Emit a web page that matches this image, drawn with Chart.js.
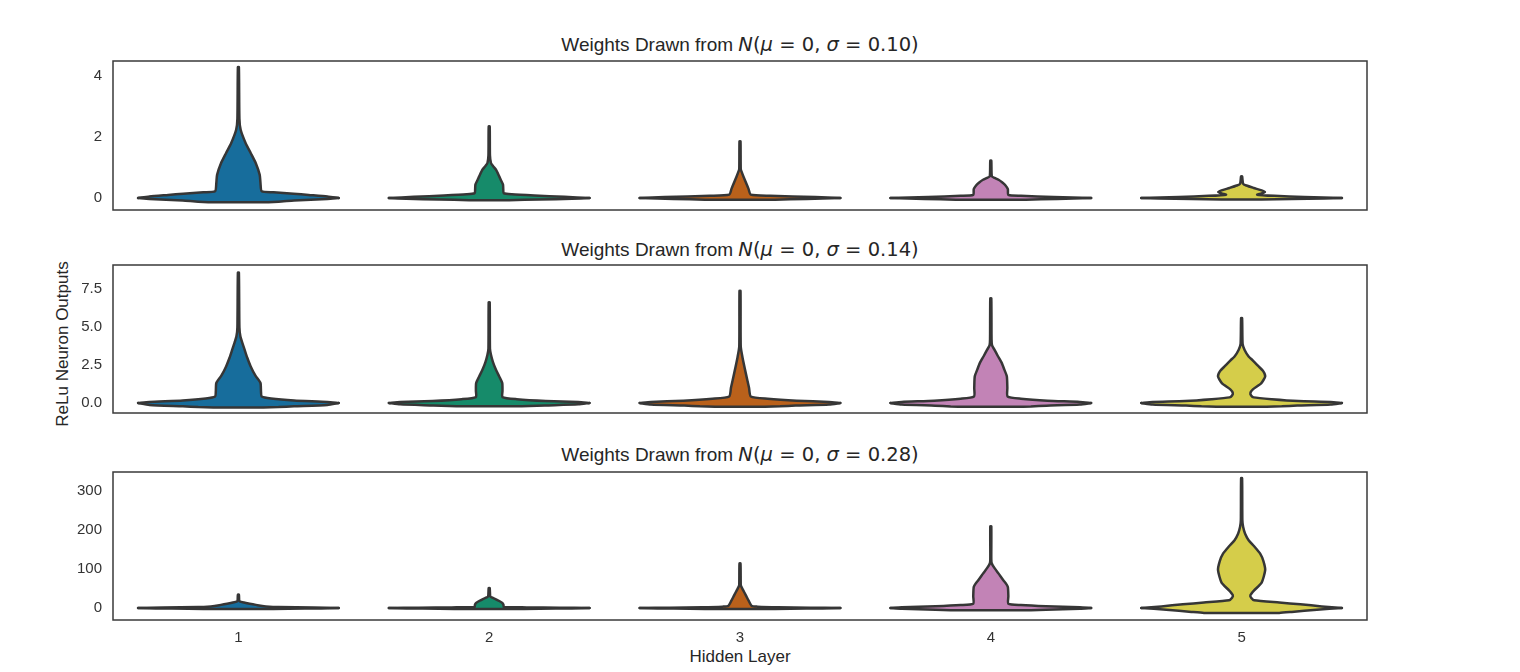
<!DOCTYPE html>
<html lang="en">
<head>
<meta charset="UTF-8">
<title>ReLu neuron outputs per hidden layer</title>
<script src="https://cdn.jsdelivr.net/npm/chart.js"></script>
<style>
  body { margin: 0; background: #fff; width: 1520px; height: 672px; overflow: hidden; position: relative;
         font-family: "Liberation Sans", Arial, sans-serif; color: #262626; }
  .panel { position: absolute; left: 0; }
  .panel canvas { display: block; }
  .title { position: absolute; left: 113px; width: 1254px; text-align: center; font-size: 19px; line-height: 22px; white-space: nowrap; }
  .math { font-family: "DejaVu Sans", sans-serif; font-size: 19.5px; }
  .math i { font-style: oblique; }
  #ylabel { position: absolute; left: 63px; top: 344px; font-size: 17px; line-height: 18px; white-space: nowrap;
            transform: translate(-50%, -50%) rotate(-90deg); }
  #xlabel { position: absolute; left: 740px; top: 657px; font-size: 17px; line-height: 18px; white-space: nowrap;
            transform: translate(-50%, -50%); }
</style>
</head>
<body>
<div class="title" style="top:34px">Weights Drawn from <span class="math"><i>N</i>(<i>μ</i> = 0, <i>σ</i> = 0.10)</span></div>
<div class="title" style="top:239px">Weights Drawn from <span class="math"><i>N</i>(<i>μ</i> = 0, <i>σ</i> = 0.14)</span></div>
<div class="title" style="top:444px">Weights Drawn from <span class="math"><i>N</i>(<i>μ</i> = 0, <i>σ</i> = 0.28)</span></div>
<div id="ylabel">ReLu Neuron Outputs</div>
<div id="xlabel">Hidden Layer</div>

<div class="panel" style="top:51px"><canvas id="c1" width="1390" height="169"></canvas></div>
<div class="panel" style="top:255px"><canvas id="c2" width="1390" height="168"></canvas></div>
<div class="panel" style="top:462px"><canvas id="c3" width="1390" height="198"></canvas></div>

<script>
// hidden layers on the x axis
var layers = [1, 2, 3, 4, 5];
var layerLabels = ['1', '2', '3', '4', '5'];
var colours = ['#176d9c', '#168b6a', '#ba611b', '#c283b6', '#d5cd4a'];

// y ticks of each panel
var ticks010 = [0, 2, 4];
var tickLabels010 = ['0', '2', '4'];
var ticks014 = [0, 2.5, 5, 7.5];
var tickLabels014 = ['0.0', '2.5', '5.0', '7.5'];
var ticks028 = [0, 100, 200, 300];
var tickLabels028 = ['0', '100', '200', '300'];

// violin outlines: [output value, half width in layer units], bottom to top
var sigma010 = [
  [[-0.14,0.08],[-0.12,0.16],[-0.08,0.222],[-0.03,0.355],[0,0.4],[0.05,0.355],[0.1,0.28],[0.14,0.22],[0.19,0.14],[0.22,0.093],
   [0.5,0.088],[0.76,0.085],[1.15,0.069],[1.48,0.049],[1.8,0.029],[2.24,0.009],[2.6,0.004],[4.3,0.002]],
  [[-0.07,0.08],[-0.05,0.2],[-0.025,0.33],[0,0.4],[0.04,0.3],[0.08,0.18],[0.12,0.09],[0.16,0.058],[0.3,0.056],[0.44,0.055],
   [0.6,0.046],[0.71,0.04],[0.93,0.027],[1.05,0.015],[1.15,0.007],[1.4,0.003],[2.35,0.002]],
  [[-0.06,0.08],[-0.045,0.2],[-0.02,0.33],[0,0.4],[0.03,0.3],[0.075,0.12],[0.11,0.043],[0.3,0.034],[0.5,0.024],[0.7,0.014],
   [0.85,0.007],[0.95,0.003],[1.86,0.002]],
  [[-0.06,0.08],[-0.045,0.2],[-0.02,0.33],[0,0.4],[0.03,0.25],[0.07,0.12],[0.1,0.07],[0.29,0.068],[0.42,0.058],[0.52,0.045],
   [0.6,0.031],[0.66,0.015],[0.71,0.004],[1.23,0.002]],
  [[-0.05,0.08],[-0.035,0.2],[-0.015,0.33],[0,0.4],[0.03,0.25],[0.07,0.13],[0.11,0.062],[0.15,0.08],[0.2,0.093],[0.25,0.08],
   [0.33,0.048],[0.41,0.019],[0.47,0.006],[0.71,0.002]]
];
var sigma014 = [
  [[-0.29,0.1],[-0.27,0.16],[-0.22,0.222],[-0.13,0.355],[0,0.4],[0.07,0.355],[0.17,0.222],[0.3,0.13],[0.43,0.093],[0.8,0.09],
   [1.32,0.088],[1.8,0.068],[2.41,0.049],[3.0,0.035],[3.5,0.025],[4.0,0.015],[4.38,0.008],[5.0,0.004],[8.6,0.002]],
  [[-0.22,0.1],[-0.2,0.16],[-0.16,0.222],[-0.09,0.355],[0,0.4],[0.06,0.355],[0.13,0.226],[0.25,0.11],[0.39,0.053],[0.8,0.053],
   [1.32,0.052],[1.75,0.04],[2.19,0.027],[2.7,0.015],[3.18,0.007],[3.6,0.003],[6.64,0.002]],
  [[-0.24,0.1],[-0.22,0.16],[-0.17,0.222],[-0.1,0.355],[0,0.4],[0.07,0.355],[0.15,0.226],[0.28,0.11],[0.43,0.043],[1.0,0.036],
   [1.97,0.023],[3.0,0.01],[3.72,0.003],[7.4,0.002]],
  [[-0.25,0.1],[-0.23,0.16],[-0.18,0.222],[-0.1,0.355],[0,0.4],[0.07,0.355],[0.15,0.226],[0.28,0.12],[0.43,0.067],[1.0,0.066],
   [1.75,0.064],[2.2,0.054],[2.63,0.044],[3.1,0.028],[3.5,0.015],[3.8,0.005],[4.2,0.003],[6.9,0.002]],
  [[-0.24,0.1],[-0.22,0.16],[-0.17,0.222],[-0.1,0.355],[0,0.4],[0.07,0.355],[0.13,0.226],[0.25,0.12],[0.37,0.048],[0.5,0.038],
   [0.66,0.035],[0.9,0.045],[1.3,0.078],[1.75,0.094],[2.1,0.086],[2.41,0.068],[2.8,0.045],[3.07,0.028],[3.5,0.012],[3.9,0.004],[5.6,0.002]]
];
var sigma028 = [
  [[-2.5,0.08],[-2,0.2],[-1,0.33],[0,0.4],[1,0.3],[2.5,0.16],[4,0.11],[5,0.095],[8,0.07],[11,0.045],[14,0.022],[17,0.005],
   [20,0.003],[34,0.002]],
  [[-2.5,0.08],[-2,0.2],[-1,0.33],[0,0.4],[0.8,0.28],[1.6,0.15],[2.6,0.058],[8,0.057],[13,0.052],[18,0.04],[23,0.025],[27,0.01],
   [30,0.004],[51,0.002]],
  [[-2.5,0.08],[-2,0.2],[-1,0.33],[0,0.4],[0.8,0.28],[2,0.15],[3.5,0.07],[5,0.047],[18,0.035],[33,0.023],[45,0.013],[55,0.005],
   [60,0.003],[114,0.002]],
  [[-6,0.1],[-5.5,0.16],[-4.3,0.22],[-1.7,0.355],[0,0.4],[1.8,0.355],[4.4,0.22],[7.5,0.12],[11,0.07],[30,0.07],[54,0.068],
   [63,0.06],[71,0.05],[88,0.031],[102,0.015],[114,0.004],[125,0.002],[209,0.002]],
  [[-12.8,0.08],[-12.6,0.15],[-10,0.2],[-4.2,0.3],[0,0.4],[4,0.32],[9.5,0.234],[14,0.15],[19.7,0.05],[26,0.038],[32.6,0.035],
   [45,0.05],[65,0.08],[96.7,0.094],[120,0.087],[139,0.074],[158,0.05],[173.6,0.028],[190,0.014],[207.7,0.006],[225,0.003],[332,0.002]]
];

var edge = '#363636';
var tickFont = { family: 'Liberation Sans', size: 15 };
var tickColour = '#333';

// split one outline at its widest row into a lower and an upper closed piece
function violin(profile, centre, colour) {
  var peak = 0;
  profile.forEach(function(p, i) { if (p[1] > profile[peak][1]) peak = i; });
  var below = profile.slice(0, peak + 1);
  var above = profile.slice(peak);
  var lower = [], upper = [];
  below.slice().reverse().forEach(function(p) { lower.push({x: centre - p[1], y: p[0]}); });
  below.forEach(function(p) { lower.push({x: centre + p[1], y: p[0]}); });
  above.forEach(function(p) { upper.push({x: centre - p[1], y: p[0]}); });
  above.slice().reverse().forEach(function(p) { upper.push({x: centre + p[1], y: p[0]}); });
  return [lower, upper].map(function(pts) {
    return {
      data: pts, fill: 'shape', backgroundColor: colour, borderColor: edge, borderWidth: 2.5,
      pointRadius: 0, tension: 0.2, borderJoinStyle: 'round', borderCapStyle: 'round'
    };
  });
}

var frame = {
  id: 'frame',
  afterDraw: function(chart) {
    var ctx = chart.ctx, a = chart.chartArea;
    ctx.save();
    ctx.strokeStyle = '#3a3a3a';
    ctx.lineWidth = 1.5;
    ctx.strokeRect(a.left, a.top, a.right - a.left, a.bottom - a.top);
    ctx.restore();
  }
};

// no label overflow padding, so the box sits exactly where the layout padding puts it
function noOverflow(s) {
  s.paddingTop = 0; s.paddingBottom = 0; s.paddingLeft = 0; s.paddingRight = 0;
}

function panel(id, profiles, yMin, yMax, tickVals, tickLabels, showX) {
  var datasets = [];
  profiles.forEach(function(p, i) { datasets = datasets.concat(violin(p, layers[i], colours[i])); });
  new Chart(document.getElementById(id), {
    type: 'line',
    data: { datasets: datasets },
    plugins: [frame],
    options: {
      responsive: false,
      animation: false,
      layout: { padding: { top: 10, right: 23, bottom: showX ? 0 : 10, left: 0 } },
      plugins: { legend: { display: false }, tooltip: { enabled: false }, filler: { drawTime: 'beforeDatasetsDraw' } },
      scales: {
        x: {
          type: 'linear', min: 0.5, max: 5.5, display: showX,
          grid: { display: false, drawTicks: false }, border: { display: false },
          afterBuildTicks: function(s) { s.ticks = layers.map(function(v) { return {value: v}; }); },
          afterFit: function(s) { s.height = showX ? 40 : 0; noOverflow(s); },
          ticks: { padding: 9, font: tickFont, color: tickColour,
                   callback: function(v, i) { return layerLabels[i]; } }
        },
        y: {
          type: 'linear', min: yMin, max: yMax,
          grid: { display: false, drawTicks: false }, border: { display: false },
          afterBuildTicks: function(s) { s.ticks = tickVals.map(function(v) { return {value: v}; }); },
          afterFit: function(s) { s.width = 113; noOverflow(s); },
          ticks: { padding: 11, font: tickFont, color: tickColour,
                   callback: function(v, i) { return tickLabels[i]; } }
        }
      }
    }
  });
}

panel('c1', sigma010, -0.3942, 4.5, ticks010, tickLabels010, false);
panel('c2', sigma014, -0.6594, 9.1, ticks014, tickLabels014, false);
panel('c3', sigma028, -30.7, 348, ticks028, tickLabels028, true);
</script>
</body>
</html>
